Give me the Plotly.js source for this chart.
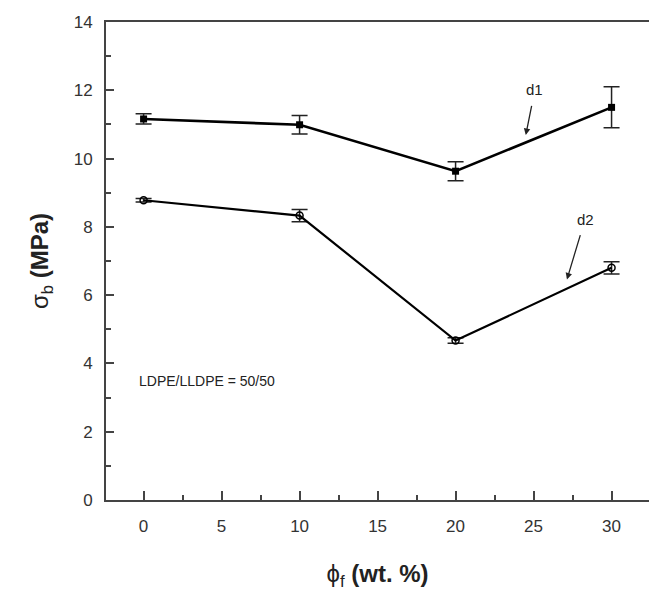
<!DOCTYPE html>
<html>
<head>
<meta charset="utf-8">
<script src="https://cdn.plot.ly/plotly-3.0.1.min.js"></script>
<style>html,body{margin:0;padding:0;background:#fff;}#chart{width:651px;height:605px;}</style>
</head>
<body>
<div id="chart"></div>
<script>
const xValues = [0, 10, 20, 30];
const d1Values = [11.16, 10.99, 9.63, 11.5];
const d1Errors = [0.15, 0.27, 0.28, 0.6];
const d2Values = [8.78, 8.33, 4.67, 6.8];
const d2Errors = [0.05, 0.18, 0.08, 0.18];
const seriesLabels = ['d1', 'd2'];
const noteText = 'LDPE/LLDPE = 50/50';

const tickFont = {family: '"Liberation Sans Narrow", "Arial Narrow", "Liberation Sans", Arial, sans-serif', size: 17, color: '#333'};
const axisColor = '#444';
const xRange = [-2.41, 32.4];
const yRange = [0, 14];

const traces = [
  {
    x: xValues, y: d1Values, name: seriesLabels[0], type: 'scatter', mode: 'lines+markers',
    line: {color: '#000', width: 2.6},
    marker: {symbol: 'square', size: 7, color: '#000'},
    error_y: {type: 'data', array: d1Errors, visible: true, color: '#222', thickness: 1.5, width: 8}
  },
  {
    x: xValues, y: d2Values, name: seriesLabels[1], type: 'scatter', mode: 'lines+markers',
    line: {color: '#000', width: 2.2},
    marker: {symbol: 'circle-open', size: 7, color: '#000', line: {width: 1.5}},
    error_y: {type: 'data', array: d2Errors, visible: true, color: '#222', thickness: 1.5, width: 8}
  }
];

const layout = {
  width: 651, height: 605,
  margin: {l: 106, r: 2, t: 22, b: 105},
  paper_bgcolor: '#fff', plot_bgcolor: '#fff',
  showlegend: false,
  xaxis: {
    range: xRange,
    tickmode: 'linear', tick0: 0, dtick: 5,
    ticks: 'inside', ticklen: 9, tickwidth: 2, tickcolor: axisColor,
    minor: {dtick: 2.5, tick0: 0, ticks: 'inside', ticklen: 5, tickwidth: 2, tickcolor: axisColor},
    showline: true, linecolor: axisColor, linewidth: 2, mirror: true,
    showgrid: false, zeroline: false,
    tickfont: tickFont, ticklabelstandoff: 10,
    title: {text: 'ϕ<sub>f</sub> <b>(wt. %)</b>', font: {family: 'Liberation Sans, Arial, sans-serif', size: 24, color: '#222'}, standoff: 30}
  },
  yaxis: {
    range: yRange,
    tickmode: 'linear', tick0: 0, dtick: 2,
    ticks: 'inside', ticklen: 8, tickwidth: 2, tickcolor: axisColor,
    minor: {dtick: 1, tick0: 0, ticks: 'inside', ticklen: 5, tickwidth: 2, tickcolor: axisColor},
    showline: true, linecolor: axisColor, linewidth: 2, mirror: false,
    showgrid: false, zeroline: false,
    tickfont: tickFont, ticklabelstandoff: 8,
    title: {text: 'σ<sub>b</sub> <b>(MPa)</b>', font: {family: 'Liberation Sans, Arial, sans-serif', size: 24, color: '#222'}, standoff: 18}
  },
  annotations: [
    {x: 24.5, y: 10.69, ax: 25.08, ay: 12.01, axref: 'x', ayref: 'y', xref: 'x', yref: 'y',
     text: seriesLabels[0], showarrow: true, arrowhead: 2, arrowsize: 1, arrowwidth: 1.3, arrowcolor: '#222',
     startstandoff: 6, font: {family: tickFont.family, size: 15, color: '#222'}},
    {x: 27.14, y: 6.46, ax: 28.3, ay: 8.22, axref: 'x', ayref: 'y', xref: 'x', yref: 'y',
     text: seriesLabels[1], showarrow: true, arrowhead: 2, arrowsize: 1, arrowwidth: 1.3, arrowcolor: '#222',
     startstandoff: 6, font: {family: tickFont.family, size: 15, color: '#222'}},
    {x: -0.45, y: 3.49, xref: 'x', yref: 'y', xanchor: 'left', text: noteText, showarrow: false,
     font: {family: tickFont.family, size: 14, color: '#222'}}
  ]
};

Plotly.newPlot('chart', traces, layout, {staticPlot: true, displayModeBar: false});
</script>
</body>
</html>
